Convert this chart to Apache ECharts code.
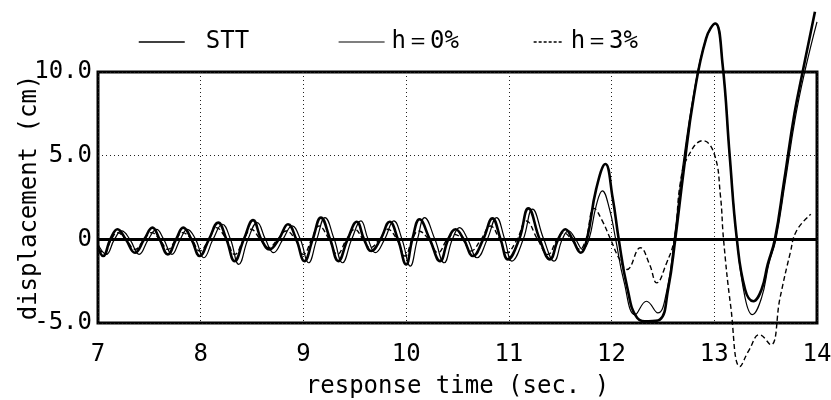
<!DOCTYPE html>
<html>
<head>
<meta charset="utf-8">
<script src="https://cdn.jsdelivr.net/npm/echarts@6/dist/echarts.min.js"></script>
<style>
html,body{margin:0;padding:0;background:#fff;}
#chart{width:831px;height:400px;}
</style>
</head>
<body>
<div id="chart"></div>
<script>
// ---- data ----
var seriesNames = ['STT', 'h\uFF1D0%', 'h\uFF1D3%'];
var xTicks = [7, 8, 9, 10, 11, 12, 13, 14];
var yTicks = [-5, 0, 5, 10];

var sttTime = [7.00,7.05,7.12,7.19,7.27,7.36,7.45,7.53,7.60,7.68,7.76,7.83,7.91,7.99,8.08,8.17,8.25,8.33,8.42,8.51,8.59,8.67,8.76,8.85,8.93,9.01,9.09,9.17,9.26,9.34,9.43,9.52,9.59,9.66,9.75,9.84,9.92,10.00,10.06,10.13,10.23,10.33,10.41,10.48,10.56,10.65,10.75,10.84,10.92,10.99,11.10,11.19,11.30,11.40,11.48,11.55,11.62,11.70,11.76,11.85,11.94,12.01,12.07,12.15,12.25,12.36,12.47,12.55,12.62,12.70,12.80,12.92,13.01,13.08,13.15,13.22,13.30,13.38,13.46,13.52,13.59,13.68,13.78,13.86,13.98];
var sttValue = [-0.5,-1.0,0.0,0.6,0.0,-0.8,0.0,0.7,0.0,-0.9,0.0,0.7,0.0,-1.0,0.0,1.0,0.0,-1.3,0.0,1.15,0.0,-0.6,0.0,0.9,0.0,-1.3,0.0,1.3,0.0,-1.3,0.0,1.05,0.0,-0.7,0.0,1.05,0.0,-1.5,0.0,1.2,0.0,-1.3,0.0,0.6,0.0,-1.0,0.0,1.25,0.0,-1.2,0.0,1.85,0.0,-1.2,0.0,0.6,0.0,-0.8,0.0,3.0,4.5,2.5,0.0,-2.8,-4.7,-4.9,-4.8,-3.0,0.0,4.0,8.5,12.0,12.9,10.5,5.0,0.0,-3.0,-3.7,-3.0,-1.5,0.0,3.5,7.5,10.0,13.6];

var h0Time = [7.00,7.08,7.16,7.23,7.31,7.40,7.49,7.57,7.64,7.72,7.80,7.87,7.95,8.03,8.12,8.21,8.29,8.37,8.46,8.55,8.63,8.71,8.80,8.89,8.97,9.05,9.13,9.21,9.30,9.38,9.47,9.56,9.63,9.70,9.79,9.88,9.96,10.04,10.11,10.18,10.28,10.37,10.45,10.52,10.60,10.69,10.79,10.88,10.96,11.03,11.14,11.23,11.34,11.44,11.52,11.58,11.65,11.72,11.78,11.85,11.91,11.98,12.04,12.12,12.23,12.34,12.45,12.54,12.61,12.69,12.80,12.92,13.01,13.08,13.15,13.22,13.30,13.37,13.46,13.53,13.60,13.69,13.79,13.88,14.00];
var h0Value = [-0.3,-0.9,0.0,0.5,0.0,-0.9,0.0,0.6,0.0,-0.9,0.0,0.6,0.0,-1.1,0.0,0.9,0.0,-1.5,0.0,1.0,0.0,-0.8,0.0,0.8,0.0,-1.4,0.0,1.3,0.0,-1.4,0.0,1.1,0.0,-0.8,0.0,1.1,0.0,-1.6,0.0,1.3,0.0,-1.4,0.0,0.7,0.0,-1.1,0.0,1.3,0.0,-1.3,0.0,1.8,0.0,-1.3,0.0,0.5,0.0,-0.6,0.0,2.0,2.9,1.8,0.0,-2.5,-4.5,-3.7,-4.4,-3.0,0.0,4.2,8.7,12.0,12.9,10.5,5.0,0.0,-3.5,-4.5,-3.5,-1.5,0.0,3.4,7.3,10.0,13.0];

var h3Time = [7.00,7.06,7.13,7.19,7.27,7.36,7.45,7.52,7.60,7.68,7.76,7.82,7.91,7.99,8.08,8.15,8.25,8.33,8.42,8.49,8.58,8.66,8.75,8.83,8.92,9.00,9.08,9.15,9.25,9.33,9.42,9.50,9.58,9.65,9.74,9.82,9.91,9.99,10.06,10.12,10.22,10.31,10.40,10.46,10.55,10.63,10.73,10.82,10.91,10.98,11.08,11.17,11.28,11.38,11.47,11.53,11.61,11.69,11.75,11.83,11.91,11.99,12.07,12.15,12.28,12.37,12.44,12.53,12.61,12.67,12.74,12.89,13.00,13.06,13.09,13.16,13.25,13.34,13.44,13.55,13.64,13.74,13.80,13.94];
var h3Value = [-0.6,-0.8,0.0,0.4,0.0,-0.6,0.0,0.4,0.0,-0.6,0.0,0.4,0.0,-0.7,0.0,0.7,0.0,-0.9,0.0,0.6,0.0,-0.5,0.0,0.5,0.0,-0.9,0.0,0.8,0.0,-0.9,0.0,0.6,0.0,-0.5,0.0,0.6,0.0,-1.0,0.0,0.5,0.0,-0.8,0.0,0.3,0.0,-0.7,0.0,0.8,0.0,-0.8,0.0,1.1,0.0,-0.9,0.0,0.4,0.0,-0.6,0.0,1.85,1.1,0.0,-1.1,-1.8,-0.5,-1.5,-2.6,-1.5,0.0,3.4,4.9,5.9,5.1,2.6,0.0,-4.0,-7.6,-6.6,-5.7,-6.3,-3.5,-0.8,0.5,1.5];

function pairs(t, v) {
  var out = [];
  for (var i = 0; i < t.length; i++) out.push([t[i], v[i]]);
  return out;
}

var FONT = 'DejaVu Sans Mono';
var chart = echarts.init(document.getElementById('chart'), null, {renderer: 'canvas'});

var hidden = {color: 'rgba(0,0,0,0)', borderColor: 'rgba(0,0,0,0)', borderWidth: 0, opacity: 0};
function legendText(padLeft) {
  return {fontFamily: FONT, fontSize: 24, color: '#000', padding: [0, 0, 0, padLeft]};
}

chart.setOption({
  animation: false,
  backgroundColor: '#fff',
  grid: {
    left: 98, right: 14, top: 72, bottom: 77,
    containLabel: false, outerBoundsMode: 'none',
    show: true, borderColor: '#000', borderWidth: 3, backgroundColor: 'transparent'
  },
  legend: [
    {data: [seriesNames[0]], left: 138, top: 30, itemWidth: 46, itemHeight: 14, itemGap: 0,
     textStyle: legendText(16), lineStyle: {width: 1.5}, itemStyle: hidden, padding: 0},
    {data: [seriesNames[1]], left: 338, top: 30, itemWidth: 46, itemHeight: 14, itemGap: 0,
     textStyle: legendText(2), lineStyle: {width: 1.2}, itemStyle: hidden, padding: 0},
    {data: [seriesNames[2]], left: 533, top: 30, itemWidth: 30, itemHeight: 14, itemGap: 0,
     textStyle: legendText(2), lineStyle: {width: 1.3, type: [3, 2]}, itemStyle: hidden, padding: 0}
  ],
  xAxis: {
    type: 'value', min: xTicks[0], max: xTicks[xTicks.length - 1], interval: 1,
    axisLine: {show: false}, axisTick: {show: false},
    axisLabel: {fontFamily: FONT, fontSize: 24, color: '#000', margin: 20},
    splitLine: {show: true, lineStyle: {color: '#222', width: 1, type: [1, 3]}},
    name: 'response time (sec. )', nameLocation: 'middle', nameGap: 52,
    nameMoveOverlap: false,
    nameTextStyle: {fontFamily: FONT, fontSize: 24, color: '#000'}
  },
  yAxis: {
    type: 'value', min: yTicks[0], max: yTicks[yTicks.length - 1], interval: 5,
    axisLine: {show: false}, axisTick: {show: false},
    axisLabel: {fontFamily: FONT, fontSize: 24, color: '#000', margin: 6,
      formatter: function (v) { return v === 0 ? '0' : v.toFixed(1); }},
    splitLine: {show: true, lineStyle: {color: '#222', width: 1, type: [1, 3]}},
    name: 'displacement (cm)', nameLocation: 'middle', nameGap: 56, nameRotate: 90,
    nameMoveOverlap: false,
    nameTextStyle: {fontFamily: FONT, fontSize: 24, color: '#000'}
  },
  series: [
    {
      name: seriesNames[0], type: 'line', data: pairs(sttTime, sttValue),
      smooth: 0.45, symbol: 'none', clip: false,
      lineStyle: {color: '#000', width: 2.6}, itemStyle: {color: '#000'}, z: 4,
      markLine: {
        silent: true, symbol: ['none', 'none'], label: {show: false},
        lineStyle: {color: '#000', width: 3, type: 'solid'},
        data: [{yAxis: 0}]
      }
    },
    {
      name: seriesNames[1], type: 'line', data: pairs(h0Time, h0Value),
      smooth: 0.45, symbol: 'none', clip: false,
      lineStyle: {color: '#000', width: 1.2}, itemStyle: {color: '#000'}, z: 3
    },
    {
      name: seriesNames[2], type: 'line', data: pairs(h3Time, h3Value),
      smooth: 0.45, symbol: 'none', clip: false,
      lineStyle: {color: '#000', width: 1.4, type: [5, 3]}, itemStyle: {color: '#000'}, z: 3
    }
  ]
});
</script>
</body>
</html>
